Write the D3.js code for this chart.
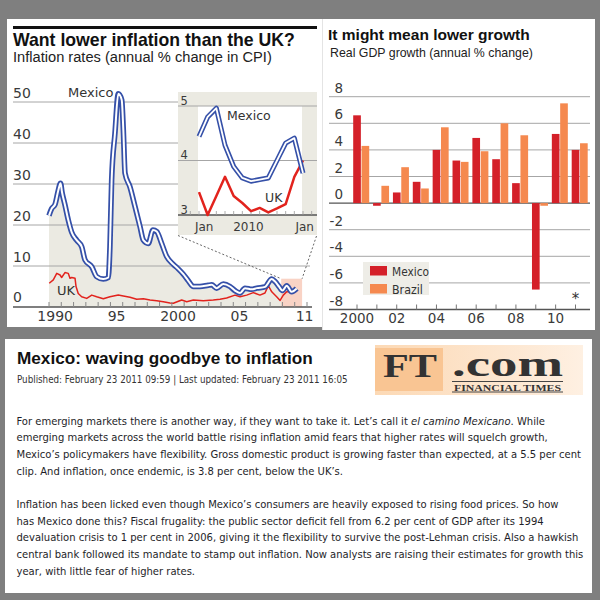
<!DOCTYPE html>
<html>
<head>
<meta charset="utf-8">
<script src="https://cdn.jsdelivr.net/npm/d3@7/dist/d3.min.js"></script>
<style>
html,body{margin:0;padding:0;background:#7f7f7f;overflow:hidden}
svg{display:block}
</style>
</head>
<body>
<svg id="chart" width="600" height="600"></svg>
<script>
// ================= DATA =================
// Left chart: inflation rates (annual % change in CPI)
const mexicoDates = [1990.0,1990.22,1990.49,1990.76,1990.94,1991.06,1991.3,1991.57,1991.85,1992.25,1992.66,1992.93,1993.48,1993.88,1994.42,1994.83,1994.96,1995.1,1995.37,1995.64,1995.92,1996.05,1996.19,1996.59,1997.0,1997.41,1997.68,1998.08,1998.46,1998.77,1999.17,1999.58,2000.12,2000.52,2000.93,2001.34,2001.75,2002.29,2002.97,2003.24,2003.65,2004.19,2004.73,2005.14,2005.55,2005.95,2006.5,2006.91,2007.58,2008.13,2008.4,2008.72,2009.0,2009.35,2009.75,2010.16];
const mexicoValues = [22.3,24.0,25.0,28.5,30.2,28.0,24.9,21.2,18.2,16.3,14.7,11.5,9.8,7.4,6.8,7.2,14.7,31.0,42.4,52.0,50.5,43.2,32.6,29.3,24.5,19.6,16.3,15.5,18.8,18.4,15.5,12.3,10.4,9.3,8.0,6.4,5.0,5.0,5.3,5.4,4.6,5.6,5.0,4.0,3.4,4.6,4.3,4.6,4.9,6.8,6.2,5.0,4.0,5.2,3.7,4.5];
const ukDates = [1990.02,1990.35,1990.63,1990.9,1991.03,1991.3,1991.57,1991.71,1991.85,1992.12,1992.2,1992.38,1992.66,1993.07,1993.48,1993.88,1994.42,1994.96,1995.64,1996.05,1996.59,1997.14,1997.68,1998.22,1998.77,1999.3,1999.85,2000.12,2000.8,2001.21,2001.75,2002.56,2003.37,2003.92,2004.46,2005.14,2005.55,2006.09,2006.63,2007.17,2007.58,2007.85,2008.13,2008.53,2008.81,2009.07,2009.35,2009.62,2010.16];
const ukValues = [5.8,6.6,8.2,7.8,7.2,8.4,8.2,7.0,7.2,7.0,5.0,3.3,2.5,2.1,2.9,2.5,2.0,2.5,2.9,2.7,2.4,1.9,2.0,1.7,1.5,1.3,1.0,0.9,1.7,1.3,1.7,1.5,1.7,1.9,2.2,2.9,2.5,2.9,3.5,2.9,3.4,5.2,3.7,2.5,1.6,2.9,3.7,3.7,4.0];
const inflationTicks = [0,10,20,30,40,50];
const inflationYearTicks = d3.range(1990, 2012);
const inflationYearLabels = ["1990","95","2000","05","11"];
const inflationLabelYears = [1990.5,1995.5,2000.5,2005.5,2010.8];
const highlightRange = [2008.9, 2010.6, 6.9];

// Inset: Jan 2010 .. Jan 2011 (month index 0..12)
const insetMonths = d3.range(0, 13);
const insetMexico = [4.44,4.80,4.96,4.28,3.89,3.68,3.62,3.65,3.68,4.00,4.32,4.41,3.77];
const insetUK = [3.42,3.00,3.35,3.70,3.35,3.22,3.07,3.13,3.05,3.12,3.20,3.70,4.00];
const insetTicks = [3,4,5];
const insetXLabels = ["Jan","2010","Jan"];
const insetXLabelMonths = [0.6,5.7,12.2];

// Right chart: real GDP growth (annual % change)
const gdpYears = [2000,2001,2002,2003,2004,2005,2006,2007,2008,2009,2010,2011];
const gdpMexico = [6.6,-0.2,0.8,1.6,4.0,3.2,4.9,3.3,1.5,-6.5,5.2,4.0];
const gdpBrazil = [4.3,1.3,2.7,1.1,5.7,3.1,3.9,6.0,5.1,-0.2,7.5,4.5];
const gdpSeries = ["Mexico","Brazil"];
const gdpTicks = [8,6,4,2,0,-2,-4,-6,-8];
const gdpYearLabels = ["2000","02","04","06","08","10"];
const gdpLabelYears = [2000,2002,2004,2006,2008,2010];

// Article text
const articleHeadline = "Mexico: waving goodbye to inflation";
const articleDateline = "Published: February 23 2011 09:59 | Last updated: February 23 2011 16:05";
const articleLines = [
  ["For emerging markets there is another way, if they want to take it. Let\u2019s call it ", "el camino Mexicano", ". While"],
  ["emerging markets across the world battle rising inflation amid fears that higher rates will squelch growth,"],
  ["Mexico\u2019s policymakers have flexibility. Gross domestic product is growing faster than expected, at a 5.5 per cent"],
  ["clip. And inflation, once endemic, is 3.8 per cent, below the UK\u2019s."],
  [""],
  ["Inflation has been licked even though Mexico\u2019s consumers are heavily exposed to rising food prices. So how"],
  ["has Mexico done this? Fiscal frugality: the public sector deficit fell from 6.2 per cent of GDP after its 1994"],
  ["devaluation crisis to 1 per cent in 2006, giving it the flexibility to survive the post-Lehman crisis. Also a hawkish"],
  ["central bank followed its mandate to stamp out inflation. Now analysts are raising their estimates for growth this"],
  ["year, with little fear of higher rates."]
];
const articleLineWidths = [528,535,565,329,0,549,526,558,568,172];

// ================= STYLE =================
const SANS = "'DejaVu Sans', Verdana, sans-serif";
const ARIAL = "'Liberation Sans', Arial, Helvetica, sans-serif";
const NARROW = "'Liberation Sans Narrow', 'Arial Narrow', 'DejaVu Sans Condensed', sans-serif";
const SERIF = "'Liberation Serif', 'Times New Roman', serif";
const BLUE = "#3550a8", RED = "#e2231d", MEXRED = "#d42029", BRAZIL = "#f5894f";
const SHADE = "#ebeae2", GRID = "#a6a6a6", AXIS = "#555";

const svg = d3.select("#chart");
svg.append("rect").attr("width", 600).attr("height", 600).attr("fill", "#7f7f7f");

function text(g, x, y, s, o = {}) {
  const t = g.append("text").attr("x", x).attr("y", y).text(s)
    .attr("font-family", o.font || SANS).attr("font-size", o.size || 14)
    .attr("fill", o.fill || "#333");
  if (o.weight) t.attr("font-weight", o.weight);
  if (o.style) t.attr("font-style", o.style);
  if (o.anchor) t.attr("text-anchor", o.anchor);
  if (o.len) t.attr("textLength", o.len).attr("lengthAdjust", "spacingAndGlyphs");
  if (o.fit) {
    const w = t.node().getComputedTextLength();
    if (w > 0) t.attr("font-size", (o.size || 14) * o.fit / w);
  }
  return t;
}

// panels
svg.append("rect").attr("x", 7).attr("y", 19).attr("width", 315).attr("height", 308).attr("fill", "#fff");
svg.append("rect").attr("x", 322).attr("y", 19).attr("width", 273).attr("height", 311).attr("fill", "#fff");
svg.append("line").attr("x1", 322.5).attr("x2", 322.5).attr("y1", 19).attr("y2", 330).attr("stroke", "#e4e4e4");
svg.append("rect").attr("x", 5).attr("y", 339).attr("width", 587).attr("height", 254).attr("fill", "#fff");

// ================= LEFT CHART =================
const L = svg.append("g");
L.append("rect").attr("x", 13).attr("y", 26).attr("width", 304).attr("height", 3).attr("fill", "#111");
text(L, 13, 45.5, "Want lower inflation than the UK?", {font: ARIAL, weight: "bold", size: 17, fill: "#111", fit: 282});
text(L, 13, 62.2, "Inflation rates (annual % change in CPI)", {font: ARIAL, size: 14, fill: "#222", fit: 259});

const x = d3.scaleLinear().domain([1990, 2011]).range([49, 307]);
const y = d3.scaleLinear().domain([0, 50]).range([307, 102]);

const mexSeries = mexicoDates.map((d, i) => [d, mexicoValues[i]]);
const ukSeries = ukDates.map((d, i) => [d, ukValues[i]]);

// shaded area under Mexico
L.append("path").datum(mexSeries)
  .attr("d", d3.area().x(d => x(d[0])).y0(y(0)).y1(d => y(d[1])).curve(d3.curveMonotoneX))
  .attr("fill", SHADE);

// gridlines
L.selectAll(".g").data(inflationTicks.filter(t => t > 0)).join("line")
  .attr("x1", 13).attr("x2", 310).attr("y1", d => y(d)).attr("y2", d => y(d))
  .attr("stroke", GRID).attr("stroke-width", 1);

// highlight box
L.append("rect").attr("x", x(highlightRange[0])).attr("y", y(highlightRange[2]))
  .attr("width", x(highlightRange[1]) - x(highlightRange[0])).attr("height", y(0) - y(highlightRange[2]))
  .attr("fill", "#f9d3c5");

// y labels
inflationTicks.forEach(t => text(L, 13, y(t) - (t === 0 ? 5 : 4.5), String(t), {size: 14, fill: "#3a3a3a"}));

// lines
L.append("path").datum(ukSeries)
  .attr("d", d3.line().x(d => x(d[0])).y(d => y(d[1])))
  .attr("fill", "none").attr("stroke", RED).attr("stroke-width", 1.5).attr("stroke-linejoin", "round");
const mexLine = d3.line().x(d => x(d[0])).y(d => y(d[1])).curve(d3.curveMonotoneX);
L.append("path").datum(mexSeries).attr("d", mexLine)
  .attr("fill", "none").attr("stroke", BLUE).attr("stroke-width", 5.5).attr("stroke-linejoin", "round");
L.append("path").datum(mexSeries).attr("d", mexLine)
  .attr("fill", "none").attr("stroke", "#fff").attr("stroke-width", 2).attr("stroke-linejoin", "round");

// x axis
L.append("line").attr("x1", 13).attr("x2", 312).attr("y1", y(0)).attr("y2", y(0))
  .attr("stroke", AXIS).attr("stroke-width", 1.5);
L.selectAll(".xt").data(inflationYearTicks).join("line")
  .attr("x1", d => x(d)).attr("x2", d => x(d)).attr("y1", y(0) - 5).attr("y2", y(0))
  .attr("stroke", "#888").attr("stroke-width", 1);
inflationYearLabels.forEach((s, i) => text(L, x(inflationLabelYears[i]), 321, s, {size: 14, anchor: "middle", fill: "#3a3a3a"}));

text(L, 68, 97, "Mexico", {size: 13, fill: "#333"});
text(L, 57, 295, "UK", {size: 13, fill: "#333"});

// connectors
const dash = {stroke: "#555", "stroke-width": 0.9, "stroke-dasharray": "2,2"};
const c1 = L.append("line").attr("x1", 178).attr("y1", 235.5).attr("x2", x(highlightRange[0])).attr("y2", y(highlightRange[2]));
const c2 = L.append("line").attr("x1", 316.5).attr("y1", 236).attr("x2", x(highlightRange[1])).attr("y2", y(highlightRange[2]));
[c1, c2].forEach(c => Object.entries(dash).forEach(([k, v]) => c.attr(k, v)));

// ---------- inset ----------
const I = svg.append("g");
const ix = d3.scaleLinear().domain([0, 12]).range([199, 303]);
const iy = d3.scaleLinear().domain([3, 5]).range([215, 106]);
I.append("rect").attr("x", 178).attr("y", 92).attr("width", 139).attr("height", 143).attr("fill", SHADE);
I.append("rect").attr("x", 198).attr("y", iy(5)).attr("width", 104).attr("height", iy(3) - iy(5)).attr("fill", "#fff");
I.selectAll(".ig").data(insetTicks.filter(t => t > 3)).join("line")
  .attr("x1", 178).attr("x2", 317).attr("y1", d => iy(d)).attr("y2", d => iy(d))
  .attr("stroke", GRID).attr("stroke-width", 1);
I.append("line").attr("x1", 178).attr("x2", 317).attr("y1", iy(3)).attr("y2", iy(3))
  .attr("stroke", AXIS).attr("stroke-width", 1.3);
I.selectAll(".it").data(d3.range(-1, 14)).join("line")
  .attr("x1", d => ix(d)).attr("x2", d => ix(d)).attr("y1", iy(3) - 4).attr("y2", iy(3))
  .attr("stroke", "#999").attr("stroke-width", 0.8);
insetTicks.forEach(t => text(I, 180.5, iy(t) - 1.5, String(t), {size: 11.5, fill: "#3a3a3a"}));
insetXLabels.forEach((s, i) => text(I, ix(insetXLabelMonths[i]), 231, s, {size: 12, anchor: "middle", fill: "#3a3a3a"}));

const iUK = insetMonths.map((m, i) => [m, insetUK[i]]);
const iMX = insetMonths.map((m, i) => [m, insetMexico[i]]);
const iline = d3.line().x(d => ix(d[0])).y(d => iy(d[1]));
I.append("path").datum(iUK).attr("d", iline).attr("fill", "none").attr("stroke", RED)
  .attr("stroke-width", 2.5).attr("stroke-linejoin", "round");
I.append("path").datum(iMX).attr("d", iline).attr("fill", "none").attr("stroke", BLUE)
  .attr("stroke-width", 5).attr("stroke-linejoin", "round");
I.append("path").datum(iMX).attr("d", iline).attr("fill", "none").attr("stroke", "#fff")
  .attr("stroke-width", 1.8).attr("stroke-linejoin", "round");
text(I, 227, 120, "Mexico", {size: 12.5, fill: "#333"});
text(I, 265, 202, "UK", {size: 12.5, fill: "#333"});

// ================= RIGHT CHART =================
const R = svg.append("g");
text(R, 328, 40, "It might mean lower growth", {font: ARIAL, weight: "bold", size: 17, fill: "#111", fit: 202});
text(R, 330, 57, "Real GDP growth (annual % change)", {font: ARIAL, size: 14, fill: "#222", fit: 203});

const gy = d3.scaleLinear().domain([-8, 8]).range([309.5, 96.7]);
const gx = d3.scaleLinear().domain([2000, 2011]).range([357, 575.5]);
const sub = d3.scaleBand().domain(gdpSeries).range([-3.8, 12.2]).paddingInner(0.08);

R.selectAll(".gg").data(gdpTicks).join("line")
  .attr("x1", 329).attr("x2", 590).attr("y1", d => gy(d)).attr("y2", d => gy(d))
  .attr("stroke", d => (d === 0 || d === -8) ? AXIS : GRID)
  .attr("stroke-width", d => (d === 0 || d === -8) ? 1.3 : 1);
gdpTicks.forEach(t => text(R, 343, gy(t) - 4, String(t), {size: 13.5, anchor: "end", fill: "#3a3a3a"}));

const seriesVals = {Mexico: gdpMexico, Brazil: gdpBrazil};
const seriesCol = {Mexico: MEXRED, Brazil: BRAZIL};
gdpSeries.forEach(s => {
  R.selectAll(".b" + s).data(gdpYears.map((yr, i) => [yr, seriesVals[s][i]])).join("rect")
    .attr("x", d => gx(d[0]) + sub(s)).attr("width", sub.bandwidth())
    .attr("y", d => gy(Math.max(0, d[1]))).attr("height", d => Math.abs(gy(d[1]) - gy(0)))
    .attr("fill", seriesCol[s]);
});
R.selectAll(".gt").data(gdpYears).join("line")
  .attr("x1", d => gx(d)).attr("x2", d => gx(d)).attr("y1", gy(-8) - 5).attr("y2", gy(-8))
  .attr("stroke", "#777").attr("stroke-width", 1);
gdpYearLabels.forEach((s, i) => text(R, gx(gdpLabelYears[i]), 323, s, {size: 13.5, anchor: "middle", fill: "#3a3a3a"}));
text(R, gx(2011), 304, "*", {size: 15, anchor: "middle", fill: "#333"});

// legend
R.append("rect").attr("x", 363).attr("y", 262).attr("width", 66).attr("height", 33).attr("fill", "#eeede7");
gdpSeries.forEach((s, i) => {
  R.append("rect").attr("x", 370).attr("y", 266 + i * 18).attr("width", 17).attr("height", 9.5).attr("fill", seriesCol[s]);
  text(R, 392, 275.5 + i * 18, s, {font: NARROW, size: 14, fill: "#333", fit: i === 0 ? 37 : 31});
});

// ================= ARTICLE =================
const A = svg.append("g");
text(A, 17, 363.5, articleHeadline, {font: ARIAL, weight: "bold", size: 17.5, fill: "#111", fit: 296});
text(A, 17, 382.5, articleDateline, {font: NARROW, size: 11, fill: "#333", fit: 331});

// FT.com logo
const defs = svg.append("defs");
const grad = defs.append("linearGradient").attr("id", "ftg").attr("x1", "0").attr("x2", "1");
grad.append("stop").attr("offset", "0").attr("stop-color", "#fcd9b5");
grad.append("stop").attr("offset", "0.6").attr("stop-color", "#fde6cf");
grad.append("stop").attr("offset", "1").attr("stop-color", "#fef0e2");
A.append("rect").attr("x", 375).attr("y", 345).attr("width", 208).attr("height", 50).attr("fill", "url(#ftg)");
A.append("rect").attr("x", 375).attr("y", 348).attr("width", 68).attr("height", 43).attr("fill", "#f9c593");
text(A, 383, 376.5, "FT", {font: SERIF, weight: "bold", size: 33, fill: "#333", len: 54});
text(A, 452, 376, ".com", {font: SERIF, weight: "bold", size: 36, fill: "#333", len: 111});
A.append("line").attr("x1", 452).attr("x2", 563).attr("y1", 381.5).attr("y2", 381.5).attr("stroke", "#444").attr("stroke-width", 1);
A.append("line").attr("x1", 452).attr("x2", 563).attr("y1", 392).attr("y2", 392).attr("stroke", "#444").attr("stroke-width", 1);
text(A, 454, 390.5, "FINANCIAL TIMES", {font: SERIF, weight: "bold", size: 7.5, fill: "#333", len: 107});

// body: one common font size fitted to the measured line widths
const BODY_BASE = 14;
const probe = A.append("text").attr("font-family", NARROW).attr("font-size", BODY_BASE);
const ratios = [];
articleLines.forEach((parts, i) => {
  if (!parts[0]) return;
  probe.text(parts.join(""));
  ratios.push(articleLineWidths[i] / probe.node().getComputedTextLength());
});
probe.remove();
const bodySize = BODY_BASE * d3.median(ratios);

articleLines.forEach((parts, i) => {
  if (!parts[0]) return;
  let cx = 16.5;
  const by = 424.5 + i * 16.7;
  parts.forEach((p, j) => {
    const t = A.append("text").attr("x", cx).attr("y", by).text(p)
      .attr("font-family", NARROW).attr("font-size", bodySize).attr("fill", "#1e1e28")
      .attr("xml:space", "preserve").style("white-space", "pre");
    if (j === 1) t.attr("font-style", "italic");
    cx += t.node().getComputedTextLength();
  });
});
</script>
</body>
</html>
